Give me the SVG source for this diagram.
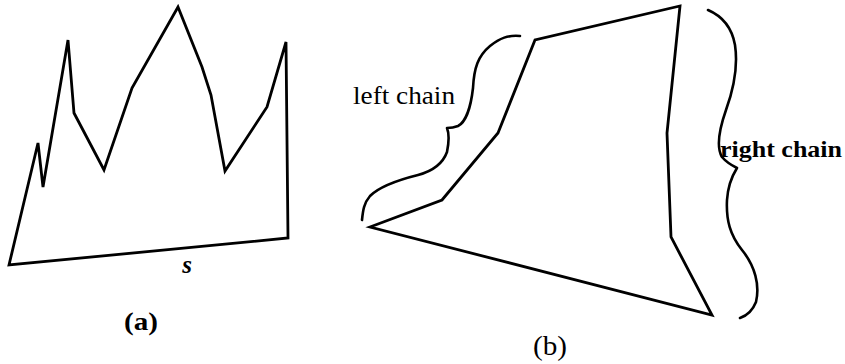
<svg xmlns="http://www.w3.org/2000/svg" width="845" height="364" viewBox="0 0 845 364">
<style>
.ln{fill:none;stroke:#000;stroke-width:2.8;stroke-linejoin:miter;stroke-linecap:round}
.br{fill:none;stroke:#000;stroke-width:2.6;stroke-linecap:round;stroke-linejoin:round}
.t{font-family:"Liberation Serif","DejaVu Serif",serif;fill:#000}
</style>
<rect width="845" height="364" fill="#fff"/>
<g id="polygon-a">
<polygon class="ln" points="9,265 38,143 43,187 68,40 74,113 104,170 132,88 178,7 202,67 211,95 225,171 267,107 286,42 288,238"/>
<text class="t" x="187" y="273" font-size="25" font-style="italic" font-weight="bold" text-anchor="middle">s</text>
</g>
<g id="label-a">
<text class="t" x="141" y="330" font-size="25" font-weight="bold" text-anchor="middle" textLength="34" lengthAdjust="spacingAndGlyphs">(a)</text>
</g>
<g id="polygon-b">
<polygon class="ln" points="370,227 442,200 498,133 535,40 680,6 667,133 671,237 712,315"/>
</g>
<g id="left-chain">
<path class="br" d="M520,36 C508,35 500,38 490,46 C478,56 474,68 473,88 C471,106 466,122 458,126 C453,128 449,128 447,128 C449,133 449,142 447,152 C443,163 433,171 418,175 C398,180 380,186 370,196 C364,203 363,210 362,220"/>
<text class="t" x="353" y="104" font-size="25" textLength="102" lengthAdjust="spacingAndGlyphs">left chain</text>
</g>
<g id="right-chain">
<path class="br" d="M708,10 C722,16 732,28 735,45 C738,65 735,85 726,110 C719,130 716,147 722,157 C727,163 733,166 737,168 C732,176 728,185 727,200 C726,220 730,235 742,250 C755,266 760,285 756,302 C752,312 746,316 740,318"/>
<text class="t" x="720" y="157" font-size="24" font-weight="bold" textLength="122" lengthAdjust="spacingAndGlyphs">right chain</text>
</g>
<g id="label-b">
<text class="t" x="550" y="355" font-size="27" text-anchor="middle" textLength="34" lengthAdjust="spacingAndGlyphs">(b)</text>
</g>
</svg>
